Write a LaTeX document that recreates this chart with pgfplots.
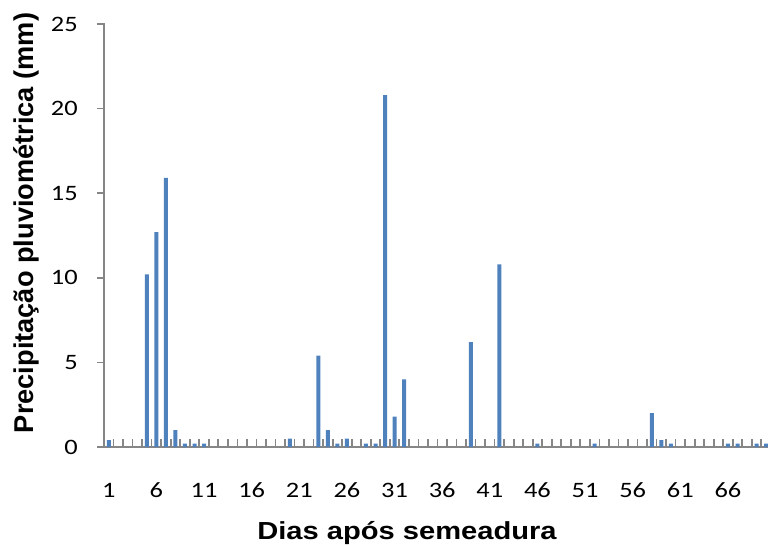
\documentclass[border=0pt]{standalone}
\usepackage{fontspec}
\setmainfont{Carlito}[FakeStretch=1.2]
\newfontfamily\xlab{Liberation Sans Bold}[FakeStretch=1.18]
\newfontfamily\ylab{Liberation Sans Bold}
\usepackage{pgfplots}
\pgfplotsset{compat=1.18}
\definecolor{barblue}{RGB}{79,129,189}
\definecolor{axisgray}{RGB}{134,134,134}
\begin{document}
\begin{tikzpicture}
\begin{axis}[
  at={(0,0)}, anchor=south west,
  scale only axis, width=498pt, height=317.25pt,
  xmin=0.5, xmax=70.2, ymin=0, ymax=25,
  axis x line*=bottom, axis y line*=left,
  axis line style={draw=axisgray, line width=1.5pt},
  tick align=inside,
  xtick={0.5,1.5,...,69.5},
  xticklabels={},
  x tick style={draw=axisgray, line width=1.3pt},
  major tick length=6pt,
  extra x ticks={1,6,11,16,21,26,31,36,41,46,51,56,61,66},
  extra x tick labels={1,6,11,16,21,26,31,36,41,46,51,56,61,66},
  extra x tick style={major tick length=0pt, tick style={draw=none}},
  ytick={0,5,10,15,20,25},
  y tick style={draw=axisgray, line width=1.3pt, xshift=-5.25pt},
  /pgf/number format/assume math mode=true,
  every tick label/.append style={font=\fontsize{16.5}{19}\selectfont, text=black},
  xticklabel style={anchor=base, inner sep=0pt, yshift=-37.5pt},
  yticklabel style={anchor=east, inner sep=0pt, xshift=-19.5pt},
  xlabel={Dias após semeadura},
  x label style={at={(axis description cs:0.4563,-0.2182)}, anchor=base, font=\xlab\fontsize{18.5}{21}\selectfont},
  ylabel={Precipitação pluviométrica (mm)},
  y label style={at={(axis description cs:-0.1069,0.5296)}, anchor=base, font=\ylab\fontsize{20.4}{24}\selectfont},
]
\addplot[ybar, fill=barblue, draw=none, bar width=3pt] coordinates {
(1,0.4) (5,10.2) (6,12.7) (7,15.9) (8,1.0) (9,0.2) (10,0.2) (11,0.2)
(20,0.5) (23,5.4) (24,1.0) (25,0.2) (26,0.5) (28,0.2) (29,0.2)
(30,20.8) (31,1.8) (32,4.0) (39,6.2) (42,10.8) (46,0.2) (52,0.2)
(58,2.0) (59,0.4) (60,0.2) (66,0.2) (67,0.2) (69,0.2) (70,0.2)
};
\end{axis}
\pgfresetboundingbox
\useasboundingbox (-78pt,-74.25pt) rectangle (498pt,335.25pt);
\end{tikzpicture}
\end{document}
